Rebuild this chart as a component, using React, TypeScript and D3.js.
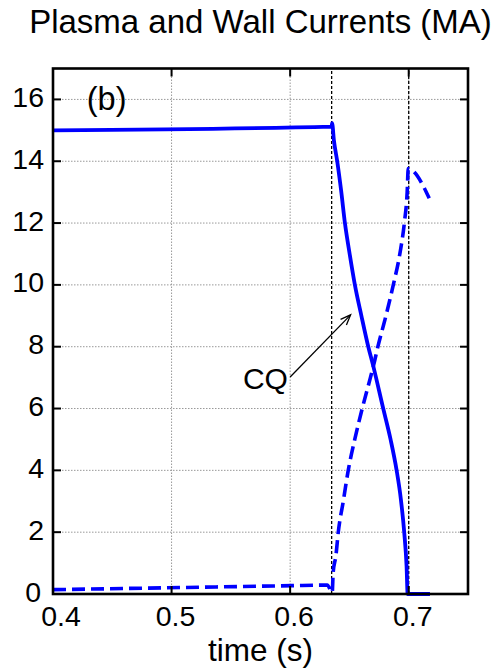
import React from "react";
import * as d3 from "d3";

// Plasma current (solid) and wall current (dashed) during the current quench
const plasmaTime = [0.4, 0.635, 0.6354, 0.6369, 0.6397, 0.643, 0.6462, 0.6502, 0.6546, 0.6601, 0.6659, 0.6698, 0.6785, 0.6847, 0.6898, 0.6934, 0.6962, 0.6982, 0.6991, 0.7179];
const plasmaCurrent = [15.0, 15.12, 15.23, 14.68, 14.0, 13.05, 12.0, 11.0, 10.0, 9.0, 8.0, 7.42, 6.0, 5.0, 4.0, 3.06, 2.0, 0.9, 0.0, 0.0];

const wallTime = [0.4, 0.6015, 0.6313, 0.6355, 0.6363, 0.6386, 0.6406, 0.6448, 0.649, 0.6545, 0.6608, 0.6677, 0.6705, 0.674, 0.6808, 0.687, 0.6925, 0.6963, 0.6987, 0.6996, 0.7173];
const wallCurrent = [0.14, 0.27, 0.29, 0.05, 0.7, 1.24, 2.0, 3.0, 4.0, 5.0, 6.0, 7.0, 7.42, 8.0, 9.0, 10.0, 11.0, 12.0, 13.0, 13.76, 12.8];

const xTicks = [0.4, 0.5, 0.6, 0.7];
const yTicks = [0, 2, 4, 6, 8, 10, 12, 14, 16];
const quenchMarks = [0.635, 0.7];

const W = 502;
const H = 669;
const M = { left: 53, right: 34, top: 68.5, bottom: 75 };
const FONT = "'Liberation Sans', Arial, Helvetica, sans-serif";

export default function App() {
  const x = d3.scaleLinear().domain([0.4, 0.75]).range([M.left, W - M.right]);
  const y = d3.scaleLinear().domain([0, 17]).range([H - M.bottom, M.top]);

  const line = d3
    .line<[number, number]>()
    .x((d) => x(d[0]))
    .y((d) => y(d[1]))
    .curve(d3.curveMonotoneX);

  const plasma = plasmaTime.map((t, i) => [t, plasmaCurrent[i]] as [number, number]);
  const wall = wallTime.map((t, i) => [t, wallCurrent[i]] as [number, number]);

  const x0 = x.range()[0];
  const x1 = x.range()[1];
  const y0 = y.range()[0];
  const y1 = y.range()[1];

  // CQ annotation arrow
  const ax0 = x(0.6);
  const ay0 = y(7.02);
  const ax1 = x(0.651);
  const ay1 = y(9.03);
  const ang = Math.atan2(ay1 - ay0, ax1 - ax0);
  const head = 11;
  const spread = 0.38;
  const hx1 = ax1 - head * Math.cos(ang - spread);
  const hy1 = ay1 - head * Math.sin(ang - spread);
  const hx2 = ax1 - head * Math.cos(ang + spread);
  const hy2 = ay1 - head * Math.sin(ang + spread);

  return (
    <svg
      width={W}
      height={H}
      style={{ position: "absolute", left: 0, top: 0, background: "#fff" }}
      fontFamily={FONT}
    >
      <rect x={0} y={0} width={W} height={H} fill="#fff" />

      {/* grid */}
      {yTicks
        .filter((v) => v > 0)
        .map((v) => (
          <line key={"gy" + v} x1={x0} x2={x1} y1={y(v)} y2={y(v)} stroke="#999" strokeWidth={1} strokeDasharray="1.5 1.5" />
        ))}
      {xTicks
        .filter((v) => v > 0.4)
        .map((v) => (
          <line key={"gx" + v} x1={x(v)} x2={x(v)} y1={y0} y2={y1} stroke="#999" strokeWidth={1} strokeDasharray="1.5 1.5" />
        ))}

      {/* current quench window */}
      {quenchMarks.map((t) => (
        <line key={"q" + t} x1={x(t)} x2={x(t)} y1={y0} y2={y1} stroke="#000" strokeWidth={1.3} strokeDasharray="3 2" />
      ))}

      {/* curves */}
      <path d={line(wall) || ""} fill="none" stroke="#0000ff" strokeWidth={3.6} strokeDasharray="13 6" strokeLinejoin="round" />
      <path d={line(plasma) || ""} fill="none" stroke="#0000ff" strokeWidth={3.8} strokeLinejoin="round" />

      {/* ticks */}
      {yTicks.map((v) => (
        <g key={"ty" + v}>
          <line x1={x0} x2={x0 + 8} y1={y(v)} y2={y(v)} stroke="#000" strokeWidth={2} />
          <line x1={x1} x2={x1 - 8} y1={y(v)} y2={y(v)} stroke="#000" strokeWidth={2} />
          <text x={x0 - (v === 0 ? 12 : 9)} y={y(v) + 7.5} textAnchor="end" fontSize={28.5} fill="#000">
            {v}
          </text>
        </g>
      ))}
      {xTicks.map((v) => (
        <g key={"tx" + v}>
          <line x1={x(v)} x2={x(v)} y1={y0} y2={y0 - 8} stroke="#000" strokeWidth={2} />
          <line x1={x(v)} x2={x(v)} y1={y1} y2={y1 + 8} stroke="#000" strokeWidth={2} />
          <text x={x(v) + (v === 0.4 ? 8 : 4)} y={y0 + 32} textAnchor="middle" fontSize={28.5} fill="#000">
            {d3.format(".1f")(v)}
          </text>
        </g>
      ))}

      {/* frame */}
      <rect x={x0} y={y1} width={x1 - x0} height={y0 - y1} fill="none" stroke="#000" strokeWidth={2.6} />

      {/* annotation */}
      <line x1={ax0} y1={ay0} x2={ax1} y2={ay1} stroke="#000" strokeWidth={1.3} />
      <polyline points={`${hx1},${hy1} ${ax1},${ay1} ${hx2},${hy2}`} fill="none" stroke="#000" strokeWidth={1.3} />
      <text x={x(0.5602)} y={y(6.63)} fontSize={30} fill="#000">
        CQ
      </text>
      <text x={x(0.4285)} y={110} fontSize={32.5} fill="#000">
        (b)
      </text>

      {/* titles */}
      <text x={(x0 + x1) / 2} y={33} textAnchor="middle" fontSize={33} fill="#000">
        Plasma and Wall Currents (MA)
      </text>
      <text x={(x0 + x1) / 2} y={660.5} textAnchor="middle" fontSize={31.5} fill="#000">
        time (s)
      </text>
    </svg>
  );
}
